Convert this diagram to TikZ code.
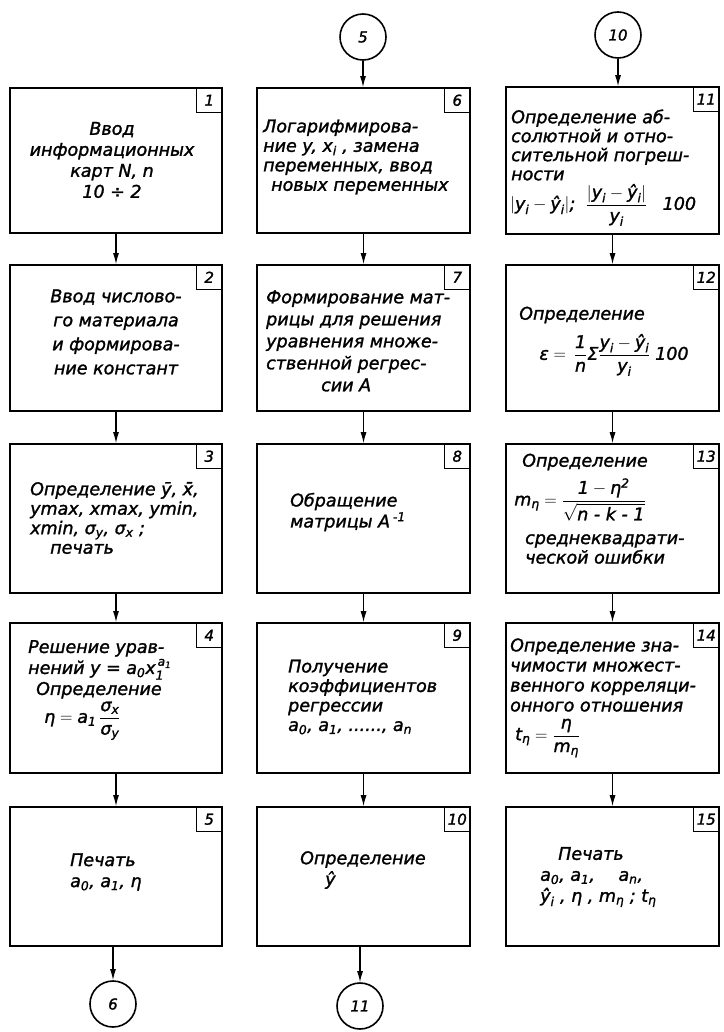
\documentclass[tikz,border=0pt]{standalone}
\usepackage{amsmath}
\usepackage{fontspec}
\setmainfont{DejaVu Sans}[ItalicFeatures={FakeBold=1.5}]
\usetikzlibrary{arrows.meta}
\newcommand{\m}[1]{\text{#1}}
\newcommand{\fs}{\fontsize{17.5}{21}\selectfont\itshape}
\newcommand{\fss}{\fontsize{17.5}{19.5}\selectfont\itshape}
\begin{document}
\begin{tikzpicture}[x=1pt,y=-1pt,
  blk/.style={draw,line width=1.6pt,inner sep=0pt},
  lbl/.style={draw,line width=1.1pt,minimum width=26pt,minimum height=25pt,inner sep=0pt,anchor=north east,font=\fontsize{15}{15}\selectfont\itshape},
  txt/.style={font=\fs,inner sep=0pt},
  txts/.style={font=\fss,inner sep=0pt},
  conn/.style={draw,circle,line width=1.6pt,minimum size=46pt,inner sep=0pt,font=\fontsize{15}{15}\selectfont\itshape},
  arr/.style={line width=1.2pt,-{Latex[length=11pt,width=6pt]}}]
\useasboundingbox (0,0) rectangle (723,1032);

% column 1
\node[blk,minimum width=212pt,minimum height=145pt] (b1) at (116,160.5) {};
\node[blk,minimum width=212pt,minimum height=146pt] (b2) at (116,338) {};
\node[blk,minimum width=212pt,minimum height=149pt] (b3) at (116,518.5) {};
\node[blk,minimum width=212pt,minimum height=150pt] (b4) at (116,698) {};
\node[blk,minimum width=212pt,minimum height=139pt] (b5) at (116,876.5) {};
% column 2
\node[blk,minimum width=213pt,minimum height=145pt] (b6) at (363.5,160.5) {};
\node[blk,minimum width=213pt,minimum height=146pt] (b7) at (363.5,338) {};
\node[blk,minimum width=213pt,minimum height=149pt] (b8) at (363.5,518.5) {};
\node[blk,minimum width=213pt,minimum height=150pt] (b9) at (363.5,698) {};
\node[blk,minimum width=213pt,minimum height=139pt] (b10) at (363.5,876.5) {};
% column 3
\node[blk,minimum width=213pt,minimum height=147pt] (b11) at (612.5,160.5) {};
\node[blk,minimum width=213pt,minimum height=146pt] (b12) at (612.5,338) {};
\node[blk,minimum width=213pt,minimum height=149pt] (b13) at (612.5,518.5) {};
\node[blk,minimum width=213pt,minimum height=150pt] (b14) at (612.5,698) {};
\node[blk,minimum width=213pt,minimum height=139pt] (b15) at (612.5,876.5) {};

% number labels
\node[lbl] (l1) at (b1.north east) {1};
\node[lbl] (l2) at (b2.north east) {2};
\node[lbl] (l3) at (b3.north east) {3};
\node[lbl] (l4) at (b4.north east) {4};
\node[lbl] (l5) at (b5.north east) {5};
\node[lbl] (l6) at (b6.north east) {6};
\node[lbl] (l7) at (b7.north east) {7};
\node[lbl] (l8) at (b8.north east) {8};
\node[lbl] (l9) at (b9.north east) {9};
\node[lbl] (l10) at (b10.north east) {10};
\node[lbl] (l11) at (b11.north east) {11};
\node[lbl] (l12) at (b12.north east) {12};
\node[lbl] (l13) at (b13.north east) {13};
\node[lbl] (l14) at (b14.north east) {14};
\node[lbl] (l15) at (b15.north east) {15};

% connectors (circles)
\node[conn] (c5) at (363,37) {5};
\node[conn] (c10) at (618,35) {10};
\node[conn] (c6) at (113,1004) {6};
\node[conn] (c11) at (360,1006) {11};

% arrows
\draw[arr] (b1) -- (b2);
\draw[arr] (b2) -- (b3);
\draw[arr] (b3) -- (b4);
\draw[arr] (b4) -- (b5);
\draw[arr] (b5.south -| c6) -- (c6.north);
\draw[arr] (c5.south) -- (c5.south |- b6.north);
\draw[arr] (b6) -- (b7);
\draw[arr] (b7) -- (b8);
\draw[arr] (b8) -- (b9);
\draw[arr] (b9) -- (b10);
\draw[arr] (b10.south -| c11) -- (c11.north);
\draw[arr] (c10.south) -- (c10.south |- b11.north);
\draw[arr] (b11) -- (b12);
\draw[arr] (b12) -- (b13);
\draw[arr] (b13) -- (b14);
\draw[arr] (b14) -- (b15);

% texts column 1
\node[txt,align=center] (t1) at (112,160) {Ввод\\информационных\\карт N, n\\10 ÷ 2};
\node[txt,font=\fontsize{17.5}{24}\selectfont\itshape,align=center] (t2) at (116,332) {Ввод числово-\\го материала\\и формирова-\\ние констант};
\node[txts,align=left,anchor=west] (t3) at (30,518) {Определение ȳ, x̄,\\ymax, xmax, ymin,\\xmin, $\m{σ}_{\m{y}}$, $\m{σ}_{\m{x}}$ ;\\\hspace*{20pt}печать};
\node[txt,align=left,anchor=west] (t4) at (28,690) {Решение урав-\\нений y = $\m{a}_{\m{0}}\m{x}_{\m{1}}^{\,\m{a}_{\m{1}}}$\\\hspace*{8pt}Определение\\[2pt]\hspace*{16pt}$\m{η} = \m{a}_{\m{1}}\,\dfrac{\m{σ}_{\m{x}}}{\m{σ}_{\m{y}}}$};
\node[txt,align=left,anchor=west] (t5) at (70,872) {Печать\\$\m{a}_{\m{0}}$, $\m{a}_{\m{1}}$, η};

% texts column 2
\node[txts,align=left,anchor=west] (t6) at (263,157) {Логарифмирова-\\ние y, $\m{x}_{\m{i}}$ , замена\\переменных, ввод\\\hspace*{8pt}новых переменных};
\node[txts,font=\fontsize{17.5}{22}\selectfont\itshape,align=left,anchor=west] (t7) at (266,341) {Формирование мат-\\рицы для решения\\уравнения множе-\\ственной регрес-\\\hspace*{55pt}сии А};
\node[txt,align=left,anchor=west] (t8) at (290,512) {Обращение\\матрицы А\,$^{\m{-1}}$};
\node[txts,align=left,anchor=west] (t9) at (288,697) {Получение\\коэффициентов\\регрессии\\$\m{a}_{\m{0}}$, $\m{a}_{\m{1}}$, ......, $\m{a}_{\m{n}}$};
\node[txt,align=left,anchor=west] (t10) at (300,870) {Определение\\\hspace*{25pt}ŷ};

% texts column 3
\node[txts,font=\fontsize{17.5}{19}\selectfont\itshape,align=left,anchor=west] (t11) at (511,145) {Определение аб-\\солютной и отно-\\сительной погреш-\\ности};
\node[txt,anchor=west] (f11) at (510,205) {$|\m{y}_{\m{i}} - \m{ŷ}_{\m{i}}|$;\; $\dfrac{|\m{y}_{\m{i}} - \m{ŷ}_{\m{i}}|}{\m{y}_{\m{i}}}$\;\; 100};
\node[txt] (t12) at (582,315) {Определение};
\node[txt] (f12) at (614,355) {$\m{ε} = \,\dfrac{\m{1}}{\m{n}}\m{Σ}\dfrac{\m{y}_{\m{i}} - \m{ŷ}_{\m{i}}}{\m{y}_{\m{i}}}\;\m{100}$};
\node[txt] (t13) at (585,462) {Определение};
\node[txt] (f13) at (580,500) {$\m{m}_{\m{η}} = \dfrac{\m{1} - \m{η}^{\m{2}}}{\sqrt{\m{n - k - 1}}}$};
\node[txts,align=left,anchor=west] (t13b) at (525,549) {среднеквадрати-\\ческой ошибки};
\node[txts,font=\fontsize{17.5}{20}\selectfont\itshape,align=left,anchor=west] (t14) at (510,675) {Определение зна-\\чимости множест-\\венного корреляци-\\онного отношения};
\node[txt,anchor=west] (f14) at (515,738) {$\m{t}_{\m{η}} = \dfrac{\m{η}}{\m{m}_{\m{η}}}$};
\node[txt,align=left,anchor=west] (t15) at (540,877) {\hspace*{18pt}Печать\\$\m{a}_{\m{0}}$, $\m{a}_{\m{1}}$, \hspace{18pt}$\m{a}_{\m{n}}$,\\$\m{ŷ}_{\m{i}}$ , η , $\m{m}_{\m{η}}$ ; $\m{t}_{\m{η}}$};
\end{tikzpicture}
\end{document}
